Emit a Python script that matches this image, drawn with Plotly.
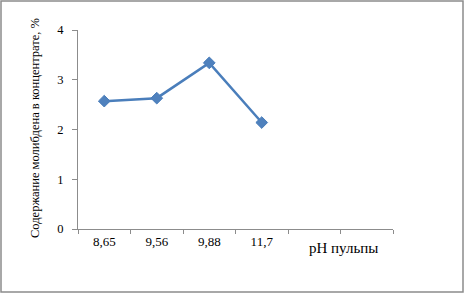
import plotly.graph_objects as go

categories = ["8,65", "9,56", "9,88", "11,7", " ", "  "]
ph_labels = ["8,65", "9,56", "9,88", "11,7"]
mo_content = [2.57, 2.63, 3.34, 2.14]
y_ticks = [0, 1, 2, 3, 4]

W, H = 465, 294
ml, mr, mt, mb = 78, 72, 30, 65
pw, ph = W - ml - mr, H - mt - mb

fig = go.Figure()
fig.add_trace(go.Scatter(
    x=ph_labels, y=mo_content, mode="lines+markers",
    line=dict(color="#4A7EBB", width=2.5),
    marker=dict(symbol="diamond", size=9, color="#4F81BD", line=dict(color="#4A7EBB", width=1)),
    showlegend=False, cliponaxis=False,
))

axis_col = "#8C8C8C"
fig.update_layout(
    width=W, height=H, margin=dict(l=ml, r=mr, t=mt, b=mb, autoexpand=False),
    paper_bgcolor="white", plot_bgcolor="white",
    font=dict(family="Liberation Serif", color="black", size=11),
    xaxis=dict(type="category", categoryorder="array", categoryarray=categories,
               range=[-0.5, 5.5], tickson="boundaries", ticks="outside", ticklen=4,
               tickcolor=axis_col, showline=True, linecolor=axis_col, linewidth=1,
               showgrid=False, zeroline=False, fixedrange=True,
               tickfont=dict(family="Liberation Serif", size=13)),
    yaxis=dict(range=[0, 4], tickvals=y_ticks, ticks="outside", ticklen=5,
               tickcolor=axis_col, showline=True, linecolor=axis_col, linewidth=1,
               showgrid=False, zeroline=False, ticklabelstandoff=6,
               tickfont=dict(family="Liberation Serif", size=12.5)),
)

fig.add_annotation(text="Содержание молибдена в концентрате, %", xref="paper", yref="paper",
                   x=(35 - ml) / pw, y=1 - (128 - mt) / ph, textangle=-90,
                   showarrow=False, font=dict(family="Liberation Serif", size=12.5),
                   xanchor="center", yanchor="middle")

fig.add_annotation(text="pH пульпы", xref="paper", yref="paper",
                   x=(343 - ml) / pw, y=-(248 - (mt + ph)) / ph,
                   showarrow=False, font=dict(family="Liberation Serif", size=15),
                   xanchor="center", yanchor="middle")

# outer border of the picture
fig.add_shape(type="rect", xref="paper", yref="paper",
              x0=(1 - ml) / pw, x1=(W - 2 - ml) / pw,
              y0=-(H - 2 - mt - ph) / ph, y1=1 + (mt - 1) / ph,
              line=dict(color="#8C8C8C", width=1.5), layer="below")

fig.write_html("out.html", config={"displayModeBar": False},
               post_script="document.body.style.margin='0';")
